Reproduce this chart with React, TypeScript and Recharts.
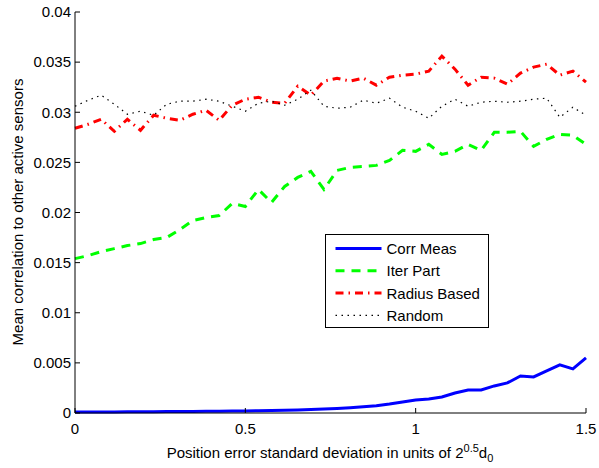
import { Line, LineChart, XAxis, YAxis } from "recharts";

const FONT = "'Liberation Sans', Arial, Helvetica, sans-serif";

// position error std, in units of 2^0.5 d0
const positionError = [
  0, 0.0385, 0.0769, 0.1154, 0.1538, 0.1923, 0.2308, 0.2692, 0.3077, 0.3462,
  0.3846, 0.4231, 0.4615, 0.5, 0.5385, 0.5769, 0.6154, 0.6538, 0.6923, 0.7308,
  0.7692, 0.8077, 0.8462, 0.8846, 0.9231, 0.9615, 1.0, 1.0385, 1.0769, 1.1154,
  1.1538, 1.1923, 1.2308, 1.2692, 1.3077, 1.3462, 1.3846, 1.4231, 1.4615, 1.5,
];

const corrMeas = [
  0.0001, 0.0001, 0.0001, 0.00011, 0.00012, 0.00012, 0.00013, 0.00014, 0.00015, 0.00016,
  0.00017, 0.00018, 0.0002, 0.00021, 0.00023, 0.00025, 0.00028, 0.00031, 0.00035, 0.0004,
  0.00046, 0.00053, 0.00062, 0.00073, 0.0009, 0.0011, 0.0013, 0.0014, 0.0016, 0.002,
  0.0023, 0.0023, 0.0027, 0.003, 0.0037, 0.0036, 0.0042, 0.0048, 0.0044, 0.0055,
];

const iterPart = [
  0.0154, 0.0157, 0.0161, 0.0164, 0.0167, 0.0169, 0.0173, 0.0175, 0.0183, 0.0192,
  0.0195, 0.0197, 0.0209, 0.0206, 0.0223, 0.021, 0.0226, 0.0235, 0.0241, 0.0223,
  0.0242, 0.0245, 0.0246, 0.0247, 0.0252, 0.0262, 0.0261, 0.0268, 0.0258, 0.0261,
  0.0268, 0.0262, 0.028, 0.028, 0.0281, 0.0266, 0.0273, 0.0278, 0.0277, 0.0268,
];

const radiusBased = [
  0.0284, 0.0288, 0.0293, 0.0281, 0.0293, 0.0282, 0.0297, 0.0294, 0.0292, 0.0298,
  0.0302, 0.0292, 0.0307, 0.0313, 0.0315, 0.031, 0.0309, 0.0326, 0.0317, 0.0331,
  0.0334, 0.0331, 0.0334, 0.0327, 0.0335, 0.0337, 0.0338, 0.0341, 0.0356, 0.0343,
  0.0327, 0.0335, 0.0334, 0.0328, 0.0339, 0.0345, 0.0348, 0.0337, 0.0341, 0.033,
];

const randomSel = [
  0.0306, 0.0312, 0.0317, 0.0308, 0.0298, 0.0301, 0.0297, 0.0308, 0.0311, 0.0311,
  0.0313, 0.0311, 0.0306, 0.0301, 0.0309, 0.0311, 0.0307, 0.0313, 0.0322, 0.0306,
  0.0304, 0.0305, 0.0312, 0.0309, 0.0314, 0.0305, 0.0301, 0.0294, 0.0306, 0.0313,
  0.0306, 0.031, 0.0311, 0.031, 0.0311, 0.0313, 0.0314, 0.0295, 0.0305, 0.0297,
];

const xTicks = [0, 0.5, 1, 1.5];
const yTicks = [0, 0.005, 0.01, 0.015, 0.02, 0.025, 0.03, 0.035, 0.04];

const series = [
  { key: "corr", name: "Corr Meas", color: "#0000ff", width: 3, dash: undefined },
  { key: "iter", name: "Iter Part", color: "#00ff00", width: 3, dash: "9 7" },
  { key: "radius", name: "Radius Based", color: "#ff0000", width: 3, dash: "8 5 1.5 5" },
  { key: "random", name: "Random", color: "#000000", width: 1.2, dash: "1.5 4.5" },
];

const rows = positionError.map((x, i) => ({
  x,
  corr: corrMeas[i],
  iter: iterPart[i],
  radius: radiusBased[i],
  random: randomSel[i],
}));

const fmt = (v: number) => String(+v.toFixed(3));
const blank = () => "";
const tickStyle = { fill: "#000", fontSize: 15, fontFamily: FONT };

export default function App() {
  return (
    <div style={{ position: "absolute", left: 0, top: 0, width: 599, height: 468, background: "#fff" }}>
      <LineChart
        width={599}
        height={468}
        data={rows}
        margin={{ top: 12, right: 13, left: 0, bottom: 0 }}
      >
        <XAxis
          dataKey="x"
          type="number"
          domain={[0, 1.5]}
          ticks={xTicks}
          interval={0}
          tickFormatter={fmt}
          height={55}
          tickSize={-5}
          tickMargin={15}
          stroke="#000"
          tick={tickStyle}
        />
        <XAxis
          xAxisId="top"
          orientation="top"
          type="number"
          domain={[0, 1.5]}
          ticks={xTicks}
          interval={0}
          tickFormatter={blank}
          height={0}
          tickSize={-5}
          stroke="#000"
        />
        <YAxis
          type="number"
          domain={[0, 0.04]}
          ticks={yTicks}
          interval={0}
          tickFormatter={fmt}
          width={75}
          tickSize={-5}
          tickMargin={9}
          stroke="#000"
          tick={tickStyle}
        />
        <YAxis
          yAxisId="right"
          orientation="right"
          type="number"
          domain={[0, 0.04]}
          ticks={yTicks}
          interval={0}
          tickFormatter={blank}
          width={0}
          tickSize={-5}
          stroke="#000"
        />
        {series.map((s) => (
          <Line
            key={s.key}
            dataKey={s.key}
            name={s.name}
            type="linear"
            stroke={s.color}
            strokeWidth={s.width}
            strokeDasharray={s.dash}
            dot={false}
            activeDot={false}
            isAnimationActive={false}
          />
        ))}
      </LineChart>

      <svg
        width={599}
        height={468}
        style={{ position: "absolute", left: 0, top: 0, pointerEvents: "none" }}
        fontFamily={FONT}
      >
        <text x={330} y={458} textAnchor="middle" fontSize={15} fill="#000">
          Position error standard deviation in units of 2
          <tspan dy={-6} fontSize={11}>0.5</tspan>
          <tspan dy={6}>d</tspan>
          <tspan dy={4} fontSize={11}>0</tspan>
        </text>
        <text
          transform="translate(23, 212) rotate(-90)"
          textAnchor="middle"
          fontSize={15}
          fill="#000"
        >
          Mean correlation to other active sensors
        </text>

        <g transform="translate(325.5, 234.5)">
          <rect x={0} y={0} width={163} height={93} fill="#fff" stroke="#000" strokeWidth={1} />
          {series.map((s, i) => {
            const cy = 14 + i * 22.3;
            return (
              <g key={s.key}>
                <line
                  x1={10}
                  x2={56}
                  y1={cy}
                  y2={cy}
                  stroke={s.color}
                  strokeWidth={s.width}
                  strokeDasharray={s.dash}
                />
                <text x={61} y={cy + 5.5} fontSize={15} fill="#000">
                  {s.name}
                </text>
              </g>
            );
          })}
        </g>
      </svg>
    </div>
  );
}
